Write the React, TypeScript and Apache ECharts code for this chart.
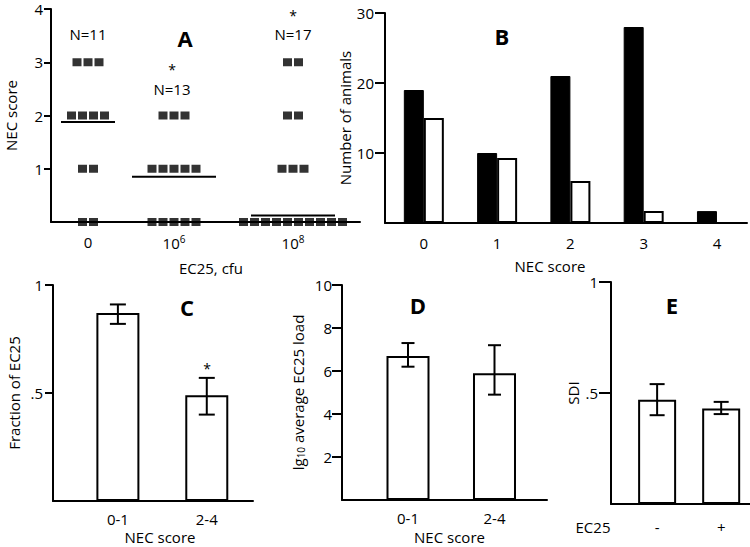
import React, { useEffect, useRef } from "react";
import * as echarts from "echarts";

// ---------- data ----------
const A_GROUPS = ["0", "10{sup|6}", "10{sup|8}"];
const A_SCORES = [0, 1, 2, 3];
// dot counts per group, indexed by score 0..3
const A_COUNTS_0 = [2, 2, 4, 3];
const A_COUNTS_6 = [5, 5, 3, 0];
const A_COUNTS_8 = [10, 3, 2, 2];
const A_MEANS = [1.88, 0.85, 0.12];
const A_N_LABELS = ["N=11", "N=13", "N=17"];

const B_CATS = ["0", "1", "2", "3", "4"];
const B_BLACK = [19, 10, 21, 28, 1.7];
const B_WHITE = [15, 9.3, 6, 1.7, 0];

const C_CATS = ["0-1", "2-4"];
const C_MEAN = [0.87, 0.49];
const C_LOW = [0.82, 0.4];
const C_HIGH = [0.91, 0.57];

const D_CATS = ["0-1", "2-4"];
const D_MEAN = [6.7, 5.9];
const D_LOW = [6.2, 4.9];
const D_HIGH = [7.3, 7.2];

const E_CATS = ["-", "+"];
const E_MEAN = [0.47, 0.43];
const E_LOW = [0.4, 0.405];
const E_HIGH = [0.54, 0.46];

// ---------- layout ----------
const FONT = "Open Sans";
const A_X = [37, 123, 242]; // group centres on panel A's x scale
const A_STEP = 11;
const A_MEAN_HALF = [27, 42, 42];

const axisLineStyle = { show: true, onZero: false, lineStyle: { color: "#000", width: 2 } };
const labelBase = { color: "#000", fontSize: 15, fontFamily: FONT };
const nameStyle = { color: "#000", fontSize: 15, fontFamily: FONT };

function errorSeries(idx: number, low: number[], high: number[], cap: number) {
  return {
    type: "custom",
    xAxisIndex: idx,
    yAxisIndex: idx,
    encode: { x: 0, y: [1, 2] },
    data: low.map((l, i) => [i, l, high[i]]),
    z: 5,
    renderItem: (params: any, api: any) => {
      const x = api.value(0);
      const p1 = api.coord([x, api.value(1)]);
      const p2 = api.coord([x, api.value(2)]);
      const hw = cap / 2;
      const st = { stroke: "#000", lineWidth: 2 };
      return {
        type: "group",
        children: [
          { type: "line", shape: { x1: p1[0], y1: p1[1], x2: p2[0], y2: p2[1] }, style: st },
          { type: "line", shape: { x1: p1[0] - hw, y1: p1[1], x2: p1[0] + hw, y2: p1[1] }, style: st },
          { type: "line", shape: { x1: p2[0] - hw, y1: p2[1], x2: p2[0] + hw, y2: p2[1] }, style: st },
        ],
      };
    },
  };
}

function whiteBars(idx: number, vals: number[], width: number) {
  return {
    type: "bar",
    xAxisIndex: idx,
    yAxisIndex: idx,
    barWidth: width,
    data: vals.map((v, i) => [i, v]),
    itemStyle: { color: "#fff", borderColor: "#000", borderWidth: 2 },
  };
}

function catXAxis(
  idx: number, cats: string[], min: number, max: number, margin: number,
  name?: string, nameGap?: number, namePad: number[] = [0, 0, 0, 0]
) {
  return {
    gridIndex: idx,
    type: "value",
    min,
    max,
    axisLine: axisLineStyle,
    axisTick: { show: false },
    splitLine: { show: false },
    axisLabel: {
      ...labelBase,
      margin,
      customValues: cats.map((_, i) => i),
      formatter: (v: number) => cats[Math.round(v)] ?? "",
    },
    name,
    nameLocation: "middle",
    nameGap,
    nameTextStyle: { ...nameStyle, padding: namePad },
  };
}

function valYAxis(
  idx: number, min: number, max: number, interval: number, ticks: number[],
  fmt: (v: number) => string, name: string, nameGap: number, tickLen: number, margin: number
) {
  return {
    gridIndex: idx,
    type: "value",
    min,
    max,
    interval,
    axisLine: axisLineStyle,
    axisTick: { show: true, length: tickLen, customValues: ticks, lineStyle: { color: "#000", width: 2 } },
    splitLine: { show: false },
    axisLabel: { ...labelBase, margin, lineHeight: 14, formatter: fmt },
    name,
    nameLocation: "middle",
    nameGap,
    nameTextStyle: nameStyle,
  };
}

export default function App() {
  const ref = useRef<HTMLDivElement>(null);

  useEffect(() => {
    if (!ref.current) return;
    const chart = echarts.init(ref.current, null, { renderer: "svg" });

    const countsByGroup = [A_COUNTS_0, A_COUNTS_6, A_COUNTS_8];
    const dots: number[][] = [];
    countsByGroup.forEach((counts, g) => {
      A_SCORES.forEach((s, si) => {
        const n = counts[si];
        for (let k = 0; k < n; k++) {
          dots.push([A_X[g] + (k - (n - 1) / 2) * A_STEP, s]);
        }
      });
    });

    const text = (t: string, x: number, y: number, size = 15, bold = false) => ({
      type: "text",
      x,
      y,
      style: {
        text: t,
        fill: "#000",
        font: `${bold ? "bold " : ""}${size}px "${FONT}"`,
        textAlign: "center",
        textVerticalAlign: "middle",
      },
    });

    const fmtHalf = (v: number) => (v === 0 ? "" : v === 1 ? "1" : ".5");
    const fmtInt = (v: number) => (v === 0 ? "" : String(v));

    const option: any = {
      animation: false,
      backgroundColor: "#fff",
      grid: [
        { left: 51, top: 9, width: 309, height: 213 },
        { left: 385, top: 13, width: 362, height: 210 },
        { left: 53, top: 285, width: 200, height: 216 },
        { left: 342, top: 285, width: 205, height: 215 },
        { left: 611, top: 282, width: 139, height: 222 },
      ],
      xAxis: [
        {
          gridIndex: 0,
          type: "value",
          min: 0,
          max: 309,
          axisLine: axisLineStyle,
          axisTick: { show: false },
          splitLine: { show: false },
          axisLabel: {
            ...labelBase,
            margin: 12,
            customValues: A_X,
            formatter: (v: number) => A_GROUPS[A_X.indexOf(v)] ?? "",
            rich: { sup: { fontSize: 10, fontFamily: FONT, color: "#000", verticalAlign: "top", padding: [0, 0, 8, 0] } },
          },
          name: "EC25, cfu",
          nameLocation: "middle",
          nameGap: 38,
          nameTextStyle: { ...nameStyle, padding: [0, 0, 0, 11] },
        },
        catXAxis(1, B_CATS, -0.53, 4.41, 12, "NEC score", 35, [0, 32, 0, 0]),
        catXAxis(2, C_CATS, -0.73, 1.52, 10, "NEC score", 28, [0, 0, 0, 14]),
        catXAxis(3, D_CATS, -0.763, 1.607, 10, "NEC score", 29, [0, 0, 0, 10]),
        catXAxis(4, E_CATS, -0.72, 1.45, 15),
      ],
      yAxis: [
        valYAxis(0, 0, 4, 1, [1, 2, 3, 4], fmtInt, "NEC score", 33, 7, 8),
        valYAxis(1, 0, 30, 10, [10, 20, 30], fmtInt, "Number of animals", 31, 10, 11),
        valYAxis(2, 0, 1, 0.5, [0.5, 1], fmtHalf, "Fraction of EC25", 32, 8, 10),
        {
          ...valYAxis(3, 0, 10, 2, [2, 4, 6, 8, 10], fmtInt, "lg{sub|10} average EC25 load", 36, 10, 10),
          nameTextStyle: {
            ...nameStyle,
            rich: { sub: { fontSize: 10, fontFamily: FONT, color: "#000", verticalAlign: "bottom", padding: [6, 0, 0, 0] } },
          },
        },
        valYAxis(4, 0, 1, 0.5, [0.5, 1], fmtHalf, "SDI", 31, 12, 13),
      ],
      series: [
        // Panel A
        {
          type: "scatter",
          xAxisIndex: 0,
          yAxisIndex: 0,
          symbol: "rect",
          symbolSize: [9, 8],
          itemStyle: { color: "#000" },
          data: dots,
          z: 4,
        },
        {
          type: "custom",
          xAxisIndex: 0,
          yAxisIndex: 0,
          data: A_MEANS.map((m, i) => [A_X[i], m]),
          renderItem: (params: any, api: any) => {
            const half = A_MEAN_HALF[params.dataIndex];
            const x = api.value(0);
            const y = api.value(1);
            const a = api.coord([x - half, y]);
            const b = api.coord([x + half, y]);
            return {
              type: "line",
              shape: { x1: a[0], y1: a[1], x2: b[0], y2: b[1] },
              style: { stroke: "#000", lineWidth: 2 },
            };
          },
        },
        // Panel B
        {
          type: "bar",
          xAxisIndex: 1,
          yAxisIndex: 1,
          barWidth: 20,
          barGap: "0%",
          data: B_BLACK.map((v, i) => [i, v]),
          itemStyle: { color: "#000", borderColor: "#000", borderWidth: 1 },
        },
        {
          type: "bar",
          xAxisIndex: 1,
          yAxisIndex: 1,
          barWidth: 20,
          barGap: "0%",
          data: B_WHITE.map((v, i) => [i, v]),
          itemStyle: { color: "#fff", borderColor: "#000", borderWidth: 2 },
        },
        // Panel C
        whiteBars(2, C_MEAN, 43),
        errorSeries(2, C_LOW, C_HIGH, 16),
        // Panel D
        whiteBars(3, D_MEAN, 43),
        errorSeries(3, D_LOW, D_HIGH, 13),
        // Panel E
        whiteBars(4, E_MEAN, 38),
        errorSeries(4, E_LOW, E_HIGH, 15),
      ],
      graphic: [
        text("A", 185, 38, 22, true),
        text("B", 502, 36, 22, true),
        text("C", 187, 307, 22, true),
        text("D", 418, 305, 22, true),
        text("E", 672, 305, 22, true),
        text(A_N_LABELS[0], 88, 34),
        text(A_N_LABELS[1], 172, 89),
        text(A_N_LABELS[2], 293, 34),
        text("*", 172, 69, 14),
        text("*", 293, 15, 14),
        text("*", 207, 368, 14),
        text("EC25", 593, 527),
      ],
    };

    chart.setOption(option);
    return () => chart.dispose();
  }, []);

  return (
    <div
      ref={ref}
      style={{ position: "fixed", left: 0, top: 0, width: 750, height: 547, background: "#fff" }}
    />
  );
}
